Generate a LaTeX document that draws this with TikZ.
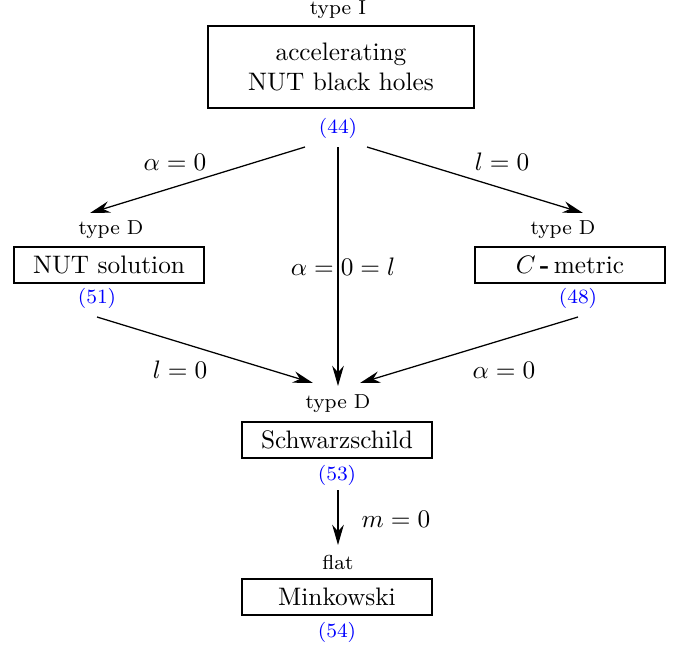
\documentclass[tikz,border=0pt]{standalone}
\usetikzlibrary{arrows.meta}
\begin{document}
\begin{tikzpicture}[x=0.3953pt,y=-0.3953pt,
  box/.style={draw,line width=0.75pt,minimum width=75pt,minimum height=14.2pt,inner sep=0pt},
  typ/.style={font=\footnotesize,inner sep=0pt},
  eqn/.style={font=\footnotesize,text=blue,inner sep=0pt},
  lab/.style={inner sep=0pt},
  arr/.style={line width=0.5pt,-{Stealth[length=8pt,width=4.6pt,inset=2.6pt]}}]
\useasboundingbox (0,0) rectangle (678,647);
% top
\node[typ] (tI) at (338,10) {type I};
\node[box,align=center,minimum width=105pt,minimum height=32.4pt] (acc) at (341,67) {accelerating\\NUT black holes};
\node[eqn] (e44) at (338,128) {(44)};
% left
\node[typ] (tDl) at (111,230) {type D};
\node[box] (nut) at (109,265) {NUT solution};
\node[eqn] (e51) at (97,298) {(51)};
% right
\node[typ] (tDr) at (563,230) {type D};
\node[box] (cm) at (570,265) {$C$\,\textbf{-}\,metric};
\node[eqn] (e48) at (578,298) {(48)};
% schwarzschild
\node[typ] (tDs) at (338,404) {type D};
\node[box] (sch) at (337,440) {Schwarzschild};
\node[eqn] (e53) at (337,475) {(53)};
% minkowski
\node[typ] (tfl) at (338,562) {flat};
\node[box] (mink) at (337,597) {Minkowski};
\node[eqn] (e54) at (337,632) {(54)};
% coordinates
\coordinate (a1) at (305,147);
\coordinate (a2) at (338,147);
\coordinate (a3) at (367,147);
\coordinate (b1) at (90,213);
\coordinate (b3) at (583,213);
\coordinate (c1) at (97,317);
\coordinate (c3) at (578,317);
\coordinate (d1) at (313,383);
\coordinate (d2) at (338,386);
\coordinate (d3) at (360,383);
\coordinate (f1) at (338,490);
\coordinate (f2) at (338,545);
% arrows
\draw[arr] (a1) -- (b1);
\draw[arr] (a2) -- (d2);
\draw[arr] (a3) -- (b3);
\draw[arr] (c1) -- (d1);
\draw[arr] (c3) -- (d3);
\draw[arr] (f1) -- (f2);
% labels
\node[lab] (l1) at (175,162) {$\alpha=0$};
\node[lab] (l2) at (502,162) {$l=0$};
\node[lab] (l3) at (343,267) {$\alpha=0=l$};
\node[lab] (l4) at (180,370) {$l=0$};
\node[lab] (l5) at (504,370) {$\alpha=0$};
\node[lab] (l6) at (396,519) {$m=0$};
\end{tikzpicture}
\end{document}
